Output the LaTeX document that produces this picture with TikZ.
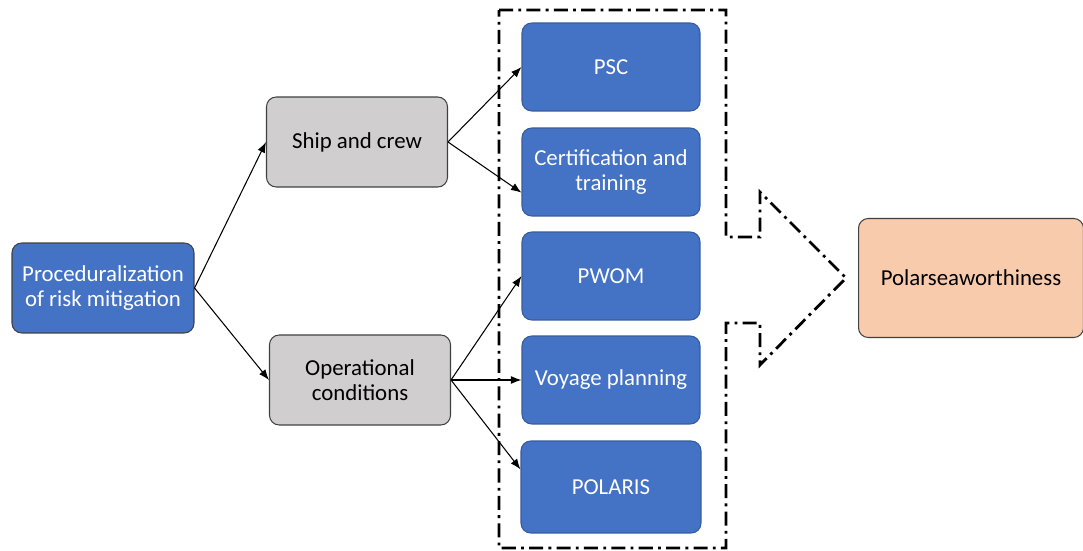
\documentclass[tikz,border=0pt]{standalone}
\usepackage{fontspec}
\setmainfont{Carlito}
\usetikzlibrary{arrows.meta}

\definecolor{boxblue}{HTML}{4472C4}
\definecolor{boxgray}{HTML}{D0CECE}
\definecolor{boxpeach}{HTML}{F8CBAD}

\begin{document}
\begin{tikzpicture}[x=0.02cm, y=-0.02cm,
    blk/.style={rectangle, rounded corners=5.5pt, draw=black!75, line width=0.6pt,
      align=center, font=\fontsize{13}{14.5}\selectfont, inner sep=2pt},
    bluebox/.style={blk, fill=boxblue, draw=boxblue!80!black, text=white,
      minimum width=3.56cm, minimum height=1.76cm},
    graybox/.style={blk, fill=boxgray, minimum width=3.62cm, minimum height=1.8cm},
    link/.style={-{Latex[length=6pt,width=4.5pt]}, line width=0.6pt},
    frame/.style={line width=1.6pt, dash pattern=on 8pt off 3pt on 1.6pt off 3pt}]
      \useasboundingbox (0,0) rectangle (1083,551);

      \node[bluebox, minimum width=3.64cm, minimum height=1.8cm, draw=black!75] (proc) at (103,288)
        {Proceduralization\\of risk mitigation};
      \node[graybox] (ship) at (357,142) {Ship and crew};
      \node[graybox] (oper) at (360,380) {Operational\\conditions};

      \node[bluebox] (psc) at (611,67) {PSC};
      \node[bluebox] (cert) at (611,172) {Certification and\\training};
      \node[bluebox] (pwom) at (611,276) {PWOM};
      \node[bluebox] (voyage) at (611,380) {Voyage planning};
      \node[bluebox, minimum width=3.6cm, minimum height=1.84cm] (polaris) at (611,487) {POLARIS};

      \node[blk, fill=boxpeach, minimum width=4.5cm, minimum height=2.38cm] (polar) at (971,278)
        {Polarseaworthiness};

      % connectors
      \draw[link] (proc.east) -- (ship.west);
      \draw[link] (proc.east) -- (oper.west);
      \draw[link] (ship.east) -- (psc.west);
      \draw[link] (ship.east) -- (cert.193);
      \draw[link] (oper.east) -- (pwom.west);
      \draw[link] (oper.east) -- (voyage.west);
      \draw[link] (oper.east) -- (polaris.169);

      % dash-dot frame with arrow
      \draw[frame] (499,10) -- (726,10) -- (726,237) -- (760,237) -- (760,192)
        -- (846,278) -- (760,365) -- (760,323) -- (726,323) -- (726,548)
        -- (499,548) -- cycle;
    \end{tikzpicture}
\end{document}
